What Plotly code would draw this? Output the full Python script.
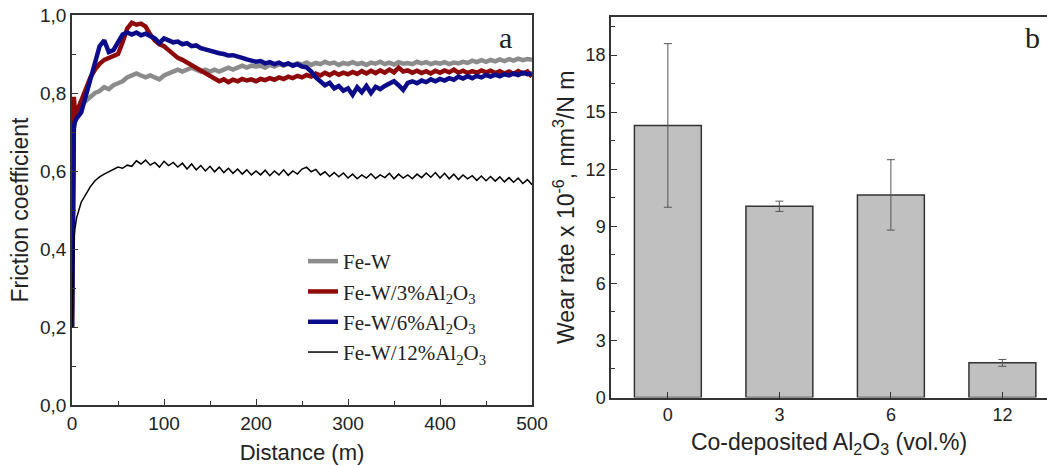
import plotly.graph_objects as go

# ---------------- data: panel a (friction coefficient) ----------------
distance = [0, 1, 2, 3, 4] + list(range(5, 501, 5))

fe_w = [0.20, 0.62, 0.71, 0.73, 0.74,
        0.75, 0.77, 0.78, 0.79, 0.80, 0.805, 0.815, 0.81, 0.82, 0.825,
        0.83, 0.84, 0.845, 0.85, 0.845, 0.84, 0.845, 0.84, 0.835, 0.845,
        0.85, 0.855, 0.86, 0.855, 0.86, 0.865, 0.86, 0.855, 0.86, 0.855,
        0.86, 0.855, 0.86, 0.865, 0.86, 0.865, 0.87, 0.865, 0.87, 0.868,
        0.87, 0.865, 0.872, 0.868, 0.874, 0.87, 0.875, 0.872, 0.876, 0.873,
        0.878, 0.872, 0.877, 0.874, 0.88, 0.875, 0.878, 0.872, 0.877, 0.874,
        0.879, 0.874, 0.877, 0.872, 0.878, 0.875, 0.88, 0.874, 0.878, 0.873,
        0.879, 0.875, 0.877, 0.874, 0.88, 0.876, 0.879, 0.874, 0.878, 0.875,
        0.879, 0.874, 0.878, 0.876, 0.88, 0.877, 0.883, 0.879, 0.884, 0.88,
        0.885, 0.881, 0.886, 0.882, 0.887, 0.883, 0.888, 0.884, 0.887, 0.885]

fe_w_3 = [0.20, 0.70, 0.79, 0.76, 0.74,
          0.75, 0.78, 0.81, 0.84, 0.86, 0.875, 0.885, 0.89, 0.895, 0.90,
          0.93, 0.965, 0.98, 0.975, 0.978, 0.97, 0.95, 0.935, 0.925, 0.92,
          0.91, 0.90, 0.89, 0.885, 0.878, 0.872, 0.865, 0.858, 0.85, 0.845,
          0.835, 0.83, 0.835, 0.828, 0.834, 0.83, 0.836, 0.832, 0.835, 0.83,
          0.836, 0.833, 0.838, 0.834, 0.84, 0.836, 0.842, 0.838, 0.844, 0.84,
          0.846, 0.842, 0.85, 0.845, 0.852, 0.846, 0.853, 0.847, 0.852, 0.848,
          0.854, 0.849, 0.856, 0.85, 0.857, 0.851, 0.858, 0.852, 0.86, 0.853,
          0.865, 0.855, 0.858, 0.852, 0.857, 0.851, 0.856, 0.85, 0.857, 0.852,
          0.858, 0.853, 0.86, 0.852, 0.857, 0.851, 0.856, 0.852, 0.858, 0.853,
          0.857, 0.851, 0.856, 0.85, 0.855, 0.849, 0.856, 0.85, 0.855, 0.842]

fe_w_6 = [0.20, 0.60, 0.71, 0.725, 0.73,
          0.735, 0.75, 0.79, 0.83, 0.87, 0.92, 0.935, 0.905, 0.91, 0.93,
          0.95, 0.955, 0.95, 0.955, 0.948, 0.952, 0.946, 0.94, 0.928, 0.94,
          0.935, 0.93, 0.932, 0.925, 0.928, 0.92, 0.922, 0.915, 0.912, 0.908,
          0.905, 0.902, 0.90, 0.896, 0.897, 0.892, 0.89, 0.886, 0.884, 0.88,
          0.882, 0.876, 0.879, 0.874, 0.878, 0.872, 0.876, 0.87, 0.874, 0.868,
          0.866, 0.855, 0.84, 0.83, 0.82, 0.826, 0.812, 0.818, 0.806, 0.812,
          0.795, 0.815, 0.802, 0.818, 0.80, 0.816, 0.81, 0.818, 0.824, 0.83,
          0.82, 0.808, 0.826, 0.83, 0.825, 0.832, 0.828, 0.835, 0.83, 0.836,
          0.832, 0.838, 0.834, 0.842, 0.837, 0.843, 0.838, 0.844, 0.84, 0.846,
          0.842, 0.847, 0.843, 0.848, 0.845, 0.85, 0.846, 0.852, 0.848, 0.85]

fe_w_12 = [0.20, 0.36, 0.42, 0.45, 0.47,
           0.48, 0.52, 0.54, 0.56, 0.575, 0.585, 0.592, 0.598, 0.603, 0.61,
           0.607, 0.615, 0.612, 0.626, 0.618, 0.628, 0.615, 0.622, 0.61, 0.625,
           0.614, 0.622, 0.61, 0.62, 0.605, 0.618, 0.603, 0.614, 0.60, 0.612,
           0.598, 0.61, 0.596, 0.607, 0.594, 0.605, 0.592, 0.603, 0.59, 0.60,
           0.59, 0.602, 0.588, 0.60, 0.59, 0.603, 0.589, 0.60, 0.592, 0.605,
           0.61, 0.598, 0.604, 0.59, 0.598, 0.586, 0.596, 0.585, 0.595, 0.582,
           0.592, 0.58, 0.59, 0.582, 0.593, 0.581, 0.59, 0.583, 0.594, 0.58,
           0.592, 0.582, 0.59, 0.58, 0.592, 0.583, 0.595, 0.584, 0.596, 0.582,
           0.594, 0.58, 0.592, 0.578, 0.59, 0.58, 0.588, 0.576, 0.587, 0.575,
           0.586, 0.574, 0.585, 0.572, 0.583, 0.571, 0.582, 0.568, 0.578, 0.565]

series_names = ["Fe-W", "Fe-W/3%Al<sub>2</sub>O<sub>3</sub>",
                "Fe-W/6%Al<sub>2</sub>O<sub>3</sub>", "Fe-W/12%Al<sub>2</sub>O<sub>3</sub>"]
series_colors = ["#8c8c8c", "#8e0a0a", "#0c0c8a", "#000000"]
series_widths = [4.5, 4.5, 4.5, 1.5]

y_ticks_a = [0.0, 0.2, 0.4, 0.6, 0.8, 1.0]
y_ticklabels_a = ["0,0", "0,2", "0,4", "0,6", "0,8", "1,0"]
x_ticks_a = [0, 100, 200, 300, 400, 500]

# ---------------- data: panel b (wear rate) ----------------
categories = ["0", "3", "6", "12"]
wear_rate = [14.3, 10.05, 10.65, 1.82]
wear_err = [4.3, 0.27, 1.85, 0.18]
y_ticks_b = [0, 3, 6, 9, 12, 15, 18]

SANS = "Liberation Sans, Arial, sans-serif"
SERIF = "Liberation Serif, Times New Roman, serif"
AX = "#333333"
TXT = "#222222"

fig = go.Figure()

for y, name, col, w in zip([fe_w, fe_w_3, fe_w_6, fe_w_12], series_names, series_colors, series_widths):
    fig.add_trace(go.Scatter(x=distance, y=y, mode="lines", name=name, legendgroup=name,
                             line=dict(color=col, width=w), xaxis="x", yaxis="y"))

fig.add_trace(go.Bar(x=categories, y=wear_rate, width=0.6, showlegend=False,
                     marker=dict(color="#c0c0c0", line=dict(color="#333333", width=1.5)),
                     error_y=dict(type="data", array=wear_err, visible=True, color="#555555",
                                  thickness=1, width=4),
                     xaxis="x2", yaxis="y2"))


def axis_common(size):
    return dict(showline=True, linecolor=AX, linewidth=1.5, ticks="inside", tickcolor=AX,
                ticklen=6, tickwidth=1.2, showgrid=False, zeroline=False, automargin=False,
                tickfont=dict(family=SANS, size=size, color=TXT))


fig.update_layout(
    width=1047, height=465,
    margin=dict(l=0, r=0, t=0, b=0),
    paper_bgcolor="white", plot_bgcolor="white",
    showlegend=True,
    xaxis=dict(domain=[72 / 1047, 532 / 1047], range=[0, 500], tickvals=x_ticks_a, mirror=True,
               minor=dict(dtick=50, ticks="inside", ticklen=4, tickcolor=AX),
               title=dict(text="Distance (m)", font=dict(family=SANS, size=22, color=TXT), standoff=12),
               anchor="y", **axis_common(19)),
    yaxis=dict(domain=[60 / 465, 450 / 465], range=[0, 1.0], tickvals=y_ticks_a, ticktext=y_ticklabels_a,
               mirror=True, minor=dict(dtick=0.1, ticks="inside", ticklen=4, tickcolor=AX),
               title=dict(text="Friction coefficient", font=dict(family=SANS, size=23, color=TXT), standoff=5),
               anchor="x", **axis_common(19)),
    xaxis2=dict(domain=[611 / 1047, 1.0], type="category", range=[-0.51, 3.40], mirror=True,
                title=dict(text="Co-deposited Al<sub>2</sub>O<sub>3</sub> (vol.%)",
                           font=dict(family=SANS, size=23, color=TXT), standoff=10),
                anchor="y2", **axis_common(18)),
    yaxis2=dict(domain=[67.5 / 465, 448 / 465], range=[0, 20], tickvals=y_ticks_b, mirror=False,
                minor=dict(dtick=1.5, ticks="inside", ticklen=4, tickcolor=AX),
                title=dict(text="Wear rate x 10<sup>-6</sup>, mm<sup>3</sup>/N m",
                           font=dict(family=SANS, size=23, color=TXT), standoff=5),
                anchor="x2", **axis_common(18)),
    legend=dict(x=303 / 1047, y=(465 - 241) / 465, xanchor="left", yanchor="top",
                bgcolor="rgba(0,0,0,0)", font=dict(family=SERIF, size=21, color=TXT),
                traceorder="grouped", tracegroupgap=0),
    annotations=[
        dict(text="a", x=505 / 1047, y=(465 - 38) / 465, xref="paper", yref="paper", showarrow=False,
             xanchor="center", yanchor="middle", font=dict(family=SERIF, size=30, color=TXT)),
        dict(text="b", x=1032 / 1047, y=(465 - 38) / 465, xref="paper", yref="paper", showarrow=False,
             xanchor="center", yanchor="middle", font=dict(family=SERIF, size=30, color=TXT)),
    ],
)

fig.write_html("out.html")
